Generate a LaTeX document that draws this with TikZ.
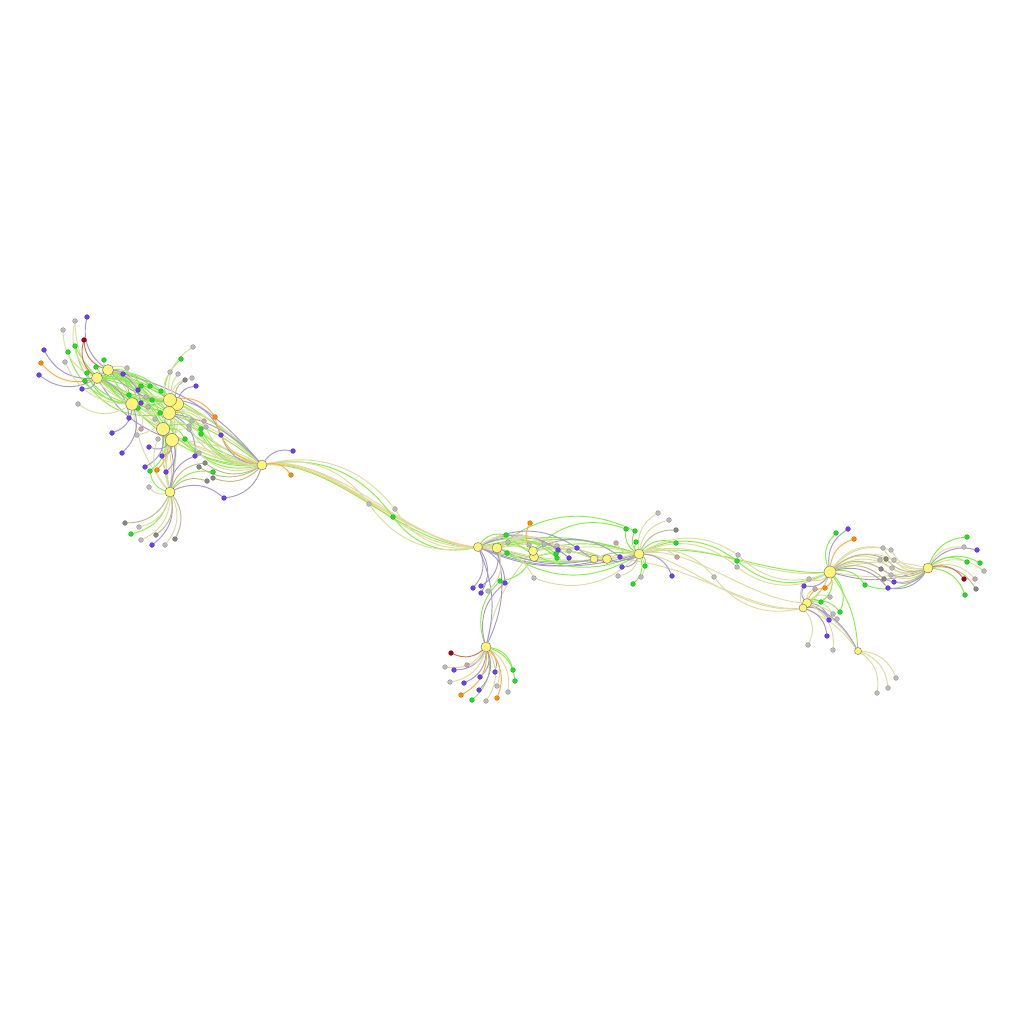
\documentclass[tikz,border=0pt]{standalone}
\usetikzlibrary{backgrounds}
\definecolor{hubc}{HTML}{FFF57A}
\definecolor{cg}{HTML}{22DD22}
\definecolor{cp}{HTML}{6A40F0}
\definecolor{cy}{HTML}{BBBBBB}
\definecolor{cd}{HTML}{888888}
\definecolor{co}{HTML}{FF8C00}
\definecolor{cr}{HTML}{A00018}
\definecolor{ck}{HTML}{C8A8A0}
\definecolor{eg}{HTML}{8CEB4A}
\definecolor{ep}{HTML}{A898C8}
\definecolor{ek}{HTML}{DCDCA0}
\definecolor{ed}{HTML}{BCBC88}
\definecolor{eo}{HTML}{FFB040}
\definecolor{er}{HTML}{D07850}
\tikzset{
 hub/.style={circle,draw=black!60,line width=0.4pt,fill=hubc,inner sep=0pt,minimum size=#1},
 lf/.style={circle,draw=#1!75!black,line width=0.3pt,fill=#1,inner sep=0pt,minimum size=4.8pt},
 ee/.style={draw=#1,line width=0.95pt},
}
\begin{document}
\begin{tikzpicture}[x=1pt,y=-1pt]
\useasboundingbox (0,0) rectangle (1024,1024);
% ---------- leaves, cluster 1
\node[lf=cp] (p1) at (87,317) {};
\node[lf=cy] (g1) at (75,321) {};
\node[lf=cy] (g2) at (63,330) {};
\node[lf=cr] (r1) at (84,340) {};
\node[lf=cg] (gr1) at (75,346) {};
\node[lf=cg] (gr2) at (68,352) {};
\node[lf=cp] (p2) at (44,350) {};
\node[lf=co] (o1) at (41,363) {};
\node[lf=cy] (g3) at (65,362) {};
\node[lf=cp] (p3) at (39,375) {};
\node[lf=cg] (gr3) at (104,360) {};
\node[lf=cg] (gr4) at (96,367) {};
\node[lf=cg] (gr5) at (87,373) {};
\node[lf=cg] (gr6) at (85,381) {};
\node[lf=cy] (g4) at (127,368) {};
\node[lf=cp] (p4) at (123,374) {};
\node[lf=cp] (p5) at (82,389) {};
\node[lf=cy] (g5) at (78,404) {};
\node[lf=cp] (p6) at (129,418) {};
\node[lf=cy] (g6) at (193,347) {};
\node[lf=cg] (gr7) at (181,359) {};
\node[lf=cy] (g7) at (170,372) {};
\node[lf=cy] (g8) at (178,374) {};
\node[lf=cd] (dg1) at (185,380) {};
\node[lf=cy] (g9) at (192,378) {};
\node[lf=cp] (p7) at (196,386) {};
\node[lf=cg] (gr8) at (141,386) {};
\node[lf=cg] (gr9) at (150,386) {};
\node[lf=cg] (gr10) at (161,391) {};
\node[lf=cp] (p8) at (138,390) {};
\node[lf=cg] (gr11) at (129,395) {};
\node[lf=cg] (gr12) at (152,400) {};
\node[lf=cp] (p9) at (141,403) {};
\node[lf=cy] (g10) at (146,397) {};
\node[lf=cy] (g11) at (148,407) {};
\node[lf=cg] (gr13) at (138,408) {};
\node[lf=cg] (gr14) at (160,413) {};
\node[lf=cy] (g12) at (155,419) {};
\node[lf=ck] (pk1) at (141,429) {};
\node[lf=cy] (g13) at (137,435) {};
\node[lf=cp] (p10) at (112,433) {};
\node[lf=cy] (g14) at (158,439) {};
\node[lf=cp] (p11) at (149,447) {};
\node[lf=cp] (p12) at (162,456) {};
\node[lf=co] (o2) at (215,417) {};
\node[lf=cp] (p13) at (221,435) {};
\node[lf=cy] (g15) at (192,421) {};
\node[lf=ck] (pk2) at (204,421) {};
\node[lf=cy] (g16) at (189,426) {};
\node[lf=cy] (g17) at (206,427) {};
\node[lf=cg] (gr15) at (201,429) {};
\node[lf=cg] (gr16) at (201,434) {};
\node[lf=cy] (g18) at (189,429) {};
\node[lf=cg] (gr17) at (185,439) {};
\node[lf=cy] (g19) at (199,453) {};
\node[lf=cp] (p14) at (195,456) {};
\node[lf=cp] (p15) at (122,453) {};
\node[lf=cp] (p16) at (145,467) {};
\node[lf=cg] (gr18) at (150,471) {};
\node[lf=co] (o3) at (157,470) {};
\node[lf=cp] (p17) at (166,472) {};
\node[lf=cy] (g20) at (149,487) {};
\node[lf=cd] (dg2) at (205,463) {};
\node[lf=cd] (dg3) at (199,467) {};
\node[lf=cg] (gr19) at (213,472) {};
\node[lf=cd] (dg4) at (213,478) {};
\node[lf=cd] (dg5) at (207,481) {};
\node[lf=cp] (p18) at (224,498) {};
\node[lf=cd] (dg6) at (125,523) {};
\node[lf=cy] (g21) at (139,527) {};
\node[lf=cg] (gr20) at (131,534) {};
\node[lf=cy] (g22) at (141,540) {};
\node[lf=cd] (dg7) at (156,535) {};
\node[lf=cp] (p19) at (152,545) {};
\node[lf=cy] (g23) at (165,545) {};
\node[lf=cd] (dg8) at (175,539) {};
\node[lf=cp] (p20) at (293,451) {};
\node[lf=co] (o4) at (291,475) {};
% ---------- bridge
\node[lf=cy] (g48) at (369,504) {};
\node[lf=cy] (g49) at (395,509) {};
\node[lf=cg] (gr41) at (393,517) {};
% ---------- middle
\node[lf=co] (o5) at (530,523) {};
\node[lf=cg] (gr21) at (506,535) {};
\node[lf=cy] (g24) at (508,542) {};
\node[lf=cy] (g25) at (529,545) {};
\node[lf=cy] (g26) at (544,544) {};
\node[lf=cy] (g27) at (557,546) {};
\node[lf=cp] (p21) at (558,550) {};
\node[lf=cg] (gr22) at (556,554) {};
\node[lf=cg] (gr23) at (557,558) {};
\node[lf=cy] (g28) at (569,551) {};
\node[lf=cp] (p22) at (569,558) {};
\node[lf=cp] (p23) at (577,548) {};
\node[lf=cg] (gr24) at (507,553) {};
\node[lf=cy] (g29) at (534,578) {};
\node[lf=cg] (gr25) at (500,581) {};
\node[lf=cp] (p24) at (505,583) {};
\node[lf=cp] (p25) at (473,588) {};
\node[lf=cp] (p26) at (481,586) {};
\node[lf=cp] (p27) at (481,593) {};
\node[lf=cy] (g30) at (488,591) {};
\node[lf=ck] (pk3) at (616,543) {};
\node[lf=cp] (p28) at (620,557) {};
\node[lf=cp] (p29) at (622,567) {};
\node[lf=cy] (g31) at (618,576) {};
\node[lf=cg] (gr26) at (633,584) {};
\node[lf=cy] (g32) at (641,577) {};
\node[lf=cg] (gr27) at (645,566) {};
\node[lf=cp] (p30) at (672,576) {};
\node[lf=ck] (pk4) at (677,557) {};
\node[lf=cg] (gr28) at (676,543) {};
\node[lf=cd] (dg9) at (676,530) {};
\node[lf=cy] (g33) at (669,520) {};
\node[lf=cy] (g34) at (658,513) {};
\node[lf=cg] (gr29) at (626,529) {};
\node[lf=cg] (gr30) at (635,531) {};
\node[lf=cg] (gr31) at (636,542) {};
\node[lf=cy] (g35) at (738,555) {};
\node[lf=cg] (gr32) at (737,561) {};
\node[lf=cy] (g36) at (737,567) {};
\node[lf=cy] (g37) at (714,577) {};
% ---------- Q cluster
\node[lf=cr] (r3) at (451,653) {};
\node[lf=cy] (g57) at (445,667) {};
\node[lf=cp] (p38) at (454,670) {};
\node[lf=ck] (pk7) at (467,665) {};
\node[lf=cy] (g58) at (450,682) {};
\node[lf=cp] (p39) at (464,683) {};
\node[lf=cp] (p40) at (480,677) {};
\node[lf=cp] (p41) at (495,672) {};
\node[lf=cg] (gr42) at (513,670) {};
\node[lf=cg] (gr43) at (515,681) {};
\node[lf=cy] (g59) at (497,686) {};
\node[lf=cp] (p42) at (479,690) {};
\node[lf=co] (o8) at (461,695) {};
\node[lf=cg] (gr44) at (472,700) {};
\node[lf=cy] (g60) at (486,701) {};
\node[lf=co] (o9) at (497,698) {};
\node[lf=cy] (g61) at (508,692) {};
% ---------- right clusters
\node[lf=cg] (gr33) at (836,533) {};
\node[lf=cp] (p31) at (848,529) {};
\node[lf=co] (o6) at (854,539) {};
\node[lf=cy] (g50) at (809,579) {};
\node[lf=cp] (p32) at (804,586) {};
\node[lf=ck] (pk5) at (815,589) {};
\node[lf=co] (o7) at (825,588) {};
\node[lf=cg] (gr34) at (821,602) {};
\node[lf=cy] (g38) at (830,597) {};
\node[lf=cg] (gr35) at (865,585) {};
\node[lf=cp] (p33) at (888,588) {};
\node[lf=cp] (p34) at (894,582) {};
\node[lf=cy] (g51) at (883,548) {};
\node[lf=cy] (g52) at (891,550) {};
\node[lf=cy] (g53) at (880,560) {};
\node[lf=cd] (dg11) at (886,559) {};
\node[lf=cy] (g54) at (894,560) {};
\node[lf=cd] (dg12) at (881,569) {};
\node[lf=cy] (g55) at (892,568) {};
\node[lf=cy] (g56) at (891,575) {};
\node[lf=cd] (dg13) at (884,579) {};
\node[lf=cg] (gr36) at (967,537) {};
\node[lf=cy] (g39) at (964,547) {};
\node[lf=cp] (p35) at (977,550) {};
\node[lf=cg] (gr37) at (967,562) {};
\node[lf=cg] (gr38) at (980,563) {};
\node[lf=cy] (g40) at (984,571) {};
\node[lf=cr] (r2) at (964,579) {};
\node[lf=ck] (pk6) at (975,579) {};
\node[lf=cd] (dg10) at (976,589) {};
\node[lf=cg] (gr39) at (965,595) {};
\node[lf=cg] (gr40) at (840,612) {};
\node[lf=cy] (g41) at (833,614) {};
\node[lf=cy] (g42) at (837,619) {};
\node[lf=cp] (p36) at (829,620) {};
\node[lf=cp] (p37) at (827,636) {};
\node[lf=cy] (g43) at (808,645) {};
\node[lf=cy] (g44) at (833,650) {};
\node[lf=cy] (g45) at (896,678) {};
\node[lf=cy] (g46) at (888,688) {};
\node[lf=cy] (g47) at (877,693) {};
% ---------- hubs
\node[hub=11pt] (A) at (97,378) {};
\node[hub=11pt] (B) at (108,370) {};
\node[hub=12.5pt] (C) at (132,404) {};
\node[hub=13pt] (E) at (177,404) {};
\node[hub=13pt] (D) at (170,400) {};
\node[hub=13pt] (F) at (169,413) {};
\node[hub=13pt] (G) at (163,429) {};
\node[hub=13pt] (H) at (172,440) {};
\node[hub=10pt] (I) at (170,492) {};
\node[hub=10pt] (J) at (262,465) {};
\node[hub=9pt] (K) at (478,547) {};
\node[hub=10pt] (L) at (497,548) {};
\node[hub=9pt] (M1) at (534,557) {};
\node[hub=9pt] (M) at (533,551) {};
\node[hub=8pt] (N) at (594,559) {};
\node[hub=9pt] (O) at (607,559) {};
\node[hub=10pt] (P) at (639,554) {};
\node[hub=10pt] (Q) at (486,647) {};
\node[hub=12pt] (R) at (830,572) {};
\node[hub=10pt] (S) at (928,568) {};
\node[hub=9pt] (T) at (807,603) {};
\node[hub=8pt] (U) at (803,608) {};
\node[hub=7pt] (V) at (858,651) {};
% ---------- edges
\begin{pgfonlayer}{background}
\fill[white] (0,0) rectangle (1024,1024);
% hub-hub
\foreach \a/\b in {A/D,A/E,A/F,B/D,B/F,B/G,C/D,C/E,C/F,C/H,A/G,B/H,J/D,J/F,J/H,I/D,I/E,K/L,K/M,L/P,K/P,M/P,N/P,K/N,R/T,R/V,M1/O,J/G}
  \draw[ee=eg] (\a) to[bend left=15] (\b);
\foreach \a/\b in {A/D,B/E,A/F,C/G,B/H,J/E,J/C,J/B,I/F,C/D,L/O,K/O}
  \draw[ee=eg] (\a) to[bend right=12] (\b);
\foreach \a/\b in {A/C,B/C,C/G,D/H,E/H,F/H,I/C,I/F,I/H,J/C,J/E,J/G,J/A,L/M,K/O,L/O,M/N,M/O,O/P,N/O,Q/M,R/S,R/U,T/U,T/V,U/V,M1/P}
  \draw[ee=ek] (\a) to[bend left=15] (\b);
\foreach \a/\b in {J/D,J/F,J/H,I/G,I/D,A/E,B/D,C/F,L/P,K/P,R/S}
  \draw[ee=ek] (\a) to[bend right=12] (\b);
\foreach \a/\b in {B/E,A/H,I/G,J/B,K/P,L/N,Q/K,Q/L,R/S,V/T,K/O,J/F}
  \draw[ee=ep] (\a) to[bend right=18] (\b);
\draw[ee=ek] (J) .. controls (345,455) and (395,550) .. (K);
\draw[ee=eg] (J) .. controls (338,462) and (402,545) .. (K);
\draw[ee=ek] (J) .. controls (352,458) and (410,552) .. (L);
\draw[ee=eo!70] (J) .. controls (335,458) and (405,548) .. (L);
\draw[ee=ek] (J) .. controls (330,452) and (420,556) .. (L);
\draw[ee=ek] (P) .. controls (700,535) and (760,580) .. (R);
\draw[ee=eg] (P) .. controls (705,540) and (765,575) .. (R);
\draw[ee=ek] (P) .. controls (690,545) and (750,600) .. (T);
\draw[ee=ek] (P) .. controls (680,555) and (740,615) .. (U);
\draw[ee=ek] (O) .. controls (690,560) and (745,612) .. (U);
% hub-leaf
\foreach \h/\l in {C/gr1,D/gr1,C/gr2,C/gr3,D/gr4,C/gr5,F/gr6,F/gr7,B/gr8,A/gr9,A/gr10,B/gr11,A/gr12,B/gr13,A/gr14,F/gr15,G/gr16,G/gr17,G/gr18,I/gr18,I/gr19,I/gr20,J/gr41,K/gr41,K/gr21,P/gr21,L/gr22,K/gr23,P/gr24,M/gr25,Q/gr25,P/gr26,P/gr27,P/gr28,P/gr29,M/gr29,P/gr30,L/gr30,P/gr31,P/gr32,R/gr32,R/gr33,R/gr34,T/gr34,R/gr35,S/gr35,S/gr36,S/gr37,S/gr38,S/gr39,R/gr40,T/gr40,Q/gr42,Q/gr43,Q/gr44,J/gr15,J/gr16,J/gr17,J/gr14}
  \draw[ee=eg] (\h) to[bend left=32] (\l);
\foreach \h/\l in {B/p1,A/p2,A/p3,A/p4,A/p5,A/p6,E/p7,B/p8,B/p9,C/p10,H/p11,H/p12,D/p13,J/p13,I/p14,F/p14,C/p15,G/p16,H/p17,I/p18,J/p18,I/p19,J/p20,K/p21,K/p22,K/p23,P/p23,K/p24,Q/p24,K/p25,L/p26,K/p27,P/p28,M/p28,P/p29,P/p30,R/p31,R/p32,T/p32,R/p33,S/p33,S/p34,S/p35,U/p36,T/p36,U/p37,Q/p38,Q/p39,Q/p40,Q/p41,Q/p42}
  \draw[ee=ep] (\h) to[bend left=32] (\l);
\foreach \h/\l in {A/g1,C/g1,A/g2,C/g3,A/g4,D/g4,C/g5,D/g6,D/g7,E/g8,D/g9,C/g10,B/g11,C/g12,D/g13,I/g14,F/g15,G/g16,F/g17,H/g18,H/g19,I/g20,I/g21,I/g22,I/g23,J/g48,K/g48,J/g49,K/g49,L/g24,K/g25,K/g26,L/g27,L/g28,K/g29,P/g29,L/g30,P/g31,P/g32,P/g33,P/g34,P/g35,R/g35,P/g36,R/g36,P/g37,U/g37,R/g50,U/g50,T/g38,R/g51,S/g51,R/g52,S/g52,R/g53,S/g53,R/g54,S/g54,R/g55,S/g55,R/g56,S/g56,S/g39,S/g40,T/g41,U/g42,U/g43,T/g44,V/g45,V/g46,V/g47,Q/g57,Q/g58,Q/g59,Q/g60,Q/g61,C/pk1,F/pk2,P/pk3,P/pk4,T/pk5,S/pk6,Q/pk7,J/g15,J/g17,J/g16,J/g19}
  \draw[ee=ek] (\h) to[bend left=32] (\l);
\foreach \h/\l in {E/dg1,I/dg2,J/dg3,J/dg4,I/dg5,I/dg6,I/dg7,I/dg8,P/dg9,S/dg10,R/dg11,S/dg11,R/dg12,S/dg12,R/dg13,S/dg13,J/dg2}
  \draw[ee=ed] (\h) to[bend left=32] (\l);
\foreach \h/\l in {A/o1,D/o2,J/o2,G/o3,J/o4,M/o5,R/o6,R/o7,T/o7,Q/o8,Q/o9}
  \draw[ee=eo] (\h) to[bend left=32] (\l);
\foreach \h/\l in {A/r1,B/r1,S/r2,Q/r3}
  \draw[ee=er] (\h) to[bend left=32] (\l);
\end{pgfonlayer}
\end{tikzpicture}
\end{document}
